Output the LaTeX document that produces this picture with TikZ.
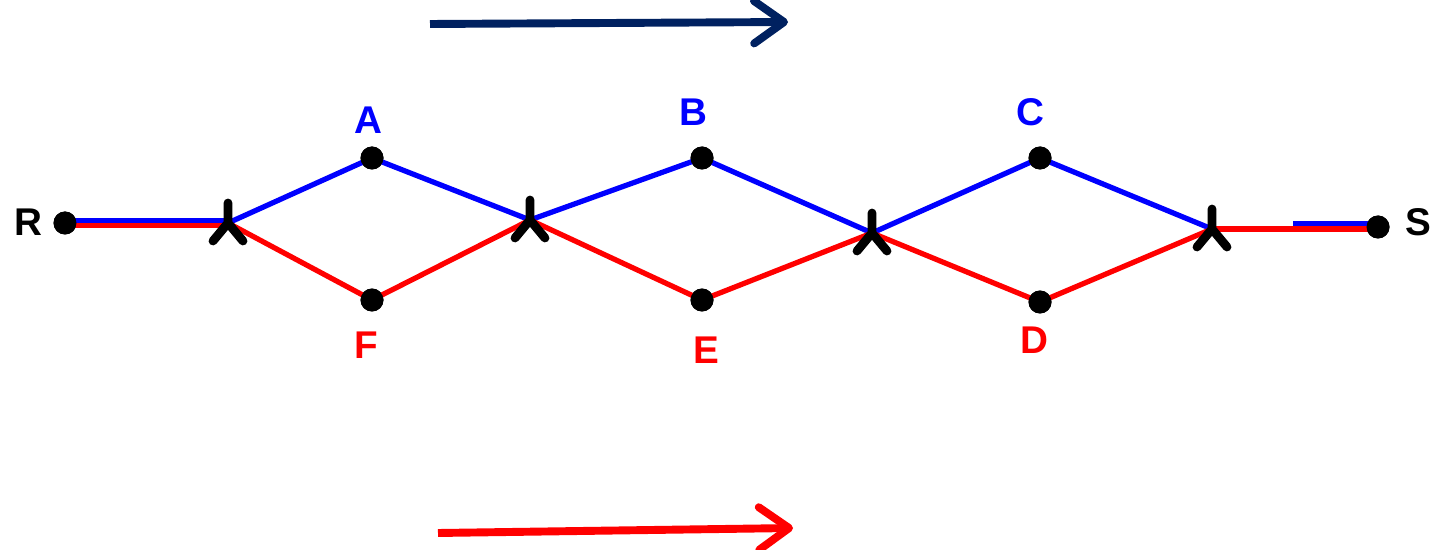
\documentclass[tikz,border=0pt]{standalone}
\usepackage{fontspec}
\setmainfont{Liberation Sans}
\usepackage{tikz}
\usetikzlibrary{arrows.meta}

\definecolor{navy}{RGB}{0,33,96}
\definecolor{lblue}{RGB}{0,0,255}
\definecolor{lred}{RGB}{255,0,0}

\begin{document}
\begin{tikzpicture}[
    x=0.02cm,
    y=-0.02cm,
    dot/.style={circle, fill=black, inner sep=0pt, minimum size=0.46cm},
    bl/.style={draw=lblue, line width=3pt},
    rd/.style={draw=lred, line width=3pt},
    big/.style={-{Straight Barb[length=0.6cm, width=0.85cm, line cap=round, line join=round]}, line width=4.5pt},
    every node/.style={font=\fontsize{22}{26}\selectfont\bfseries}
]
\useasboundingbox (0,0) rectangle (1437,550);

% 端点
\node[dot] (R) at (65,223) {};
\node[dot] (S) at (1378,227) {};
\node (lR) at (28,222) {R};
\node (lS) at (1418,222) {S};

% 分支点
\coordinate (j1) at (228,223);
\coordinate (j2) at (530,220);
\coordinate (j3) at (872,233);
\coordinate (j4) at (1212,229);

% 上排节点
\node[dot] (A) at (372,158) {};
\node[dot] (B) at (702,158) {};
\node[dot] (C) at (1040,158) {};
\node[text=lblue] (lA) at (368,120) {A};
\node[text=lblue] (lB) at (693,112) {B};
\node[text=lblue] (lC) at (1030,112) {C};

% 下排节点
\node[dot] (F) at (372,300) {};
\node[dot] (E) at (702,300) {};
\node[dot] (D) at (1040,302) {};
\node[text=lred] (lF) at (366,345) {F};
\node[text=lred] (lE) at (706,350) {E};
\node[text=lred] (lD) at (1034,340) {D};

% 两端的线
\draw[bl] ([yshift=1.5pt]R.center) -- ([yshift=1.5pt]j1);
\draw[rd] ([yshift=-1.5pt]R.center) -- ([yshift=-1.5pt]j1);
\coordinate (sb) at (1293,224);
\draw[bl] (sb) -- (sb -| S.center);
\draw[rd] (j4) -- (j4 -| S.center);

% 蓝色路径
\draw[bl] (j1) -- (A.center) -- (j2) -- (B.center) -- (j3) -- (C.center) -- (j4);

% 红色路径
\draw[rd] (j1) -- (F.center) -- (j2) -- (E.center) -- (j3) -- (D.center) -- (j4);

% 重画圆点
\foreach \n in {R,S,A,B,C,D,E,F}
  \fill (\n) circle (0.23cm);

% 分支点标记
\foreach \j in {j1,j2,j3,j4}
  \draw[line width=5pt, line cap=round, line join=round]
    ([yshift=0.4cm]\j) -- (\j) -- ++(-15,18) (\j) -- ++(15,18);

% 方向箭头
\coordinate (t0) at (430,24);
\coordinate (t1) at (788,22);
\coordinate (b0) at (438,533);
\coordinate (b1) at (793,528);
\draw[big, navy] (t0) -- (t1);
\draw[big, lred] (b0) -- (b1);

\end{tikzpicture}
\end{document}
